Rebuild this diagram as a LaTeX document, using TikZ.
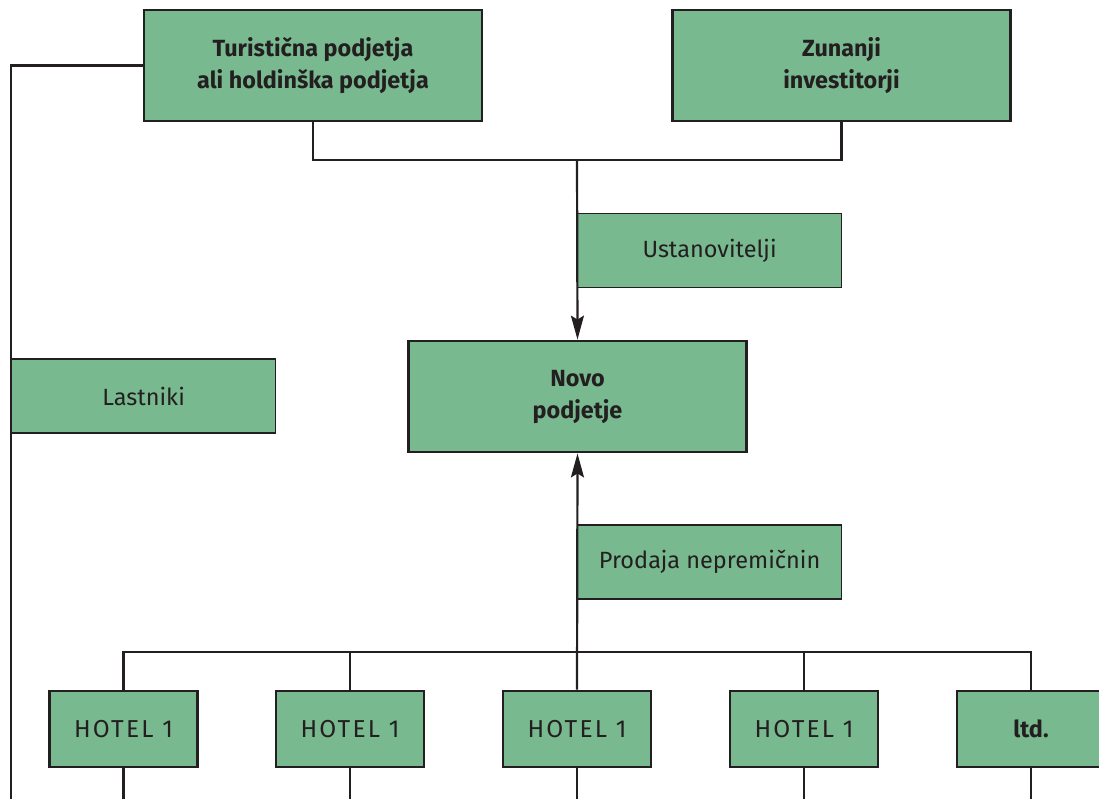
\documentclass[tikz,border=0pt]{standalone}
\usepackage{fontspec}
\setmainfont{Fira Sans}
\usetikzlibrary{arrows.meta}
\definecolor{boxgreen}{HTML}{79B98F}
\definecolor{ink}{HTML}{231F20}
\begin{document}
\begin{tikzpicture}[x=1pt,y=-1pt,
  mainbox/.style={draw=ink, line width=2.8pt, fill=boxgreen, text=ink,
    minimum width=338pt, minimum height=111pt, inner sep=0pt, align=center,
    font=\fontsize{23.4}{32}\selectfont\bfseries},
  labelbox/.style={draw=ink, line width=1.2pt, fill=boxgreen, text=ink,
    minimum width=264pt, minimum height=74pt, inner sep=0pt,
    font=\fontsize{23.5}{28}\selectfont},
  hotelbox/.style={draw=ink, line width=2.8pt, fill=boxgreen, text=ink,
    minimum width=148pt, minimum height=76pt, inner sep=0pt,
    font=\fontsize{24.5}{28}\selectfont\addfontfeature{LetterSpace=9}},
  wire/.style={draw=ink, line width=2.2pt},
  arrowtip/.style={-{Stealth[length=24pt,width=13pt,inset=4pt]}}]
\useasboundingbox (0,0) rectangle (1099,798);
\clip (0,0) rectangle (1099,798);

% boxes
\node[mainbox] (tur) at (313,65.5) {Turistična podjetja\\ali holdinška podjetja};
\node[mainbox] (zun) at (841.5,65.5) {Zunanji\\investitorji};
\node[mainbox] (novo) at (577.5,396.5) {Novo\\podjetje};
\node[labelbox, anchor=west] (ust) at (577,250.5) {Ustanovitelji};
\node[labelbox, anchor=west] (last) at (11,396) {Lastniki};
\node[labelbox, anchor=west] (prod) at (577,562) {Prodaja nepremičnin};
\node[hotelbox] (h1) at (123.5,729) {HOTEL 1};
\node[hotelbox] (h2) at (350,729) {HOTEL 1};
\node[hotelbox] (h3) at (577,729) {HOTEL 1};
\node[hotelbox] (h4) at (804,729) {HOTEL 1};
\node[hotelbox, font=\fontsize{23.4}{28}\selectfont\bfseries] (h5) at (1031,729) {ltd.};

% connectors
\coordinate (join) at (577,160);
\coordinate (bus) at (577,652);
\coordinate (leftend) at (11,810);
\draw[wire] (tur.south) |- (join) -| (zun.south);
\draw[wire, arrowtip] (join) -- (novo.north);
\draw[wire] (tur.west) -| (leftend);
\draw[wire] (h1.north) |- (bus) -| (h5.north);
\draw[wire] (h2.north) -- (h2.north |- bus);
\draw[wire] (h4.north) -- (h4.north |- bus);
\draw[wire, arrowtip] (h3.north) -- (novo.south);
\foreach \h in {h1,h2,h3,h4,h5}
  \draw[wire] (\h.south) -- ++(0,40);
\end{tikzpicture}
\end{document}
